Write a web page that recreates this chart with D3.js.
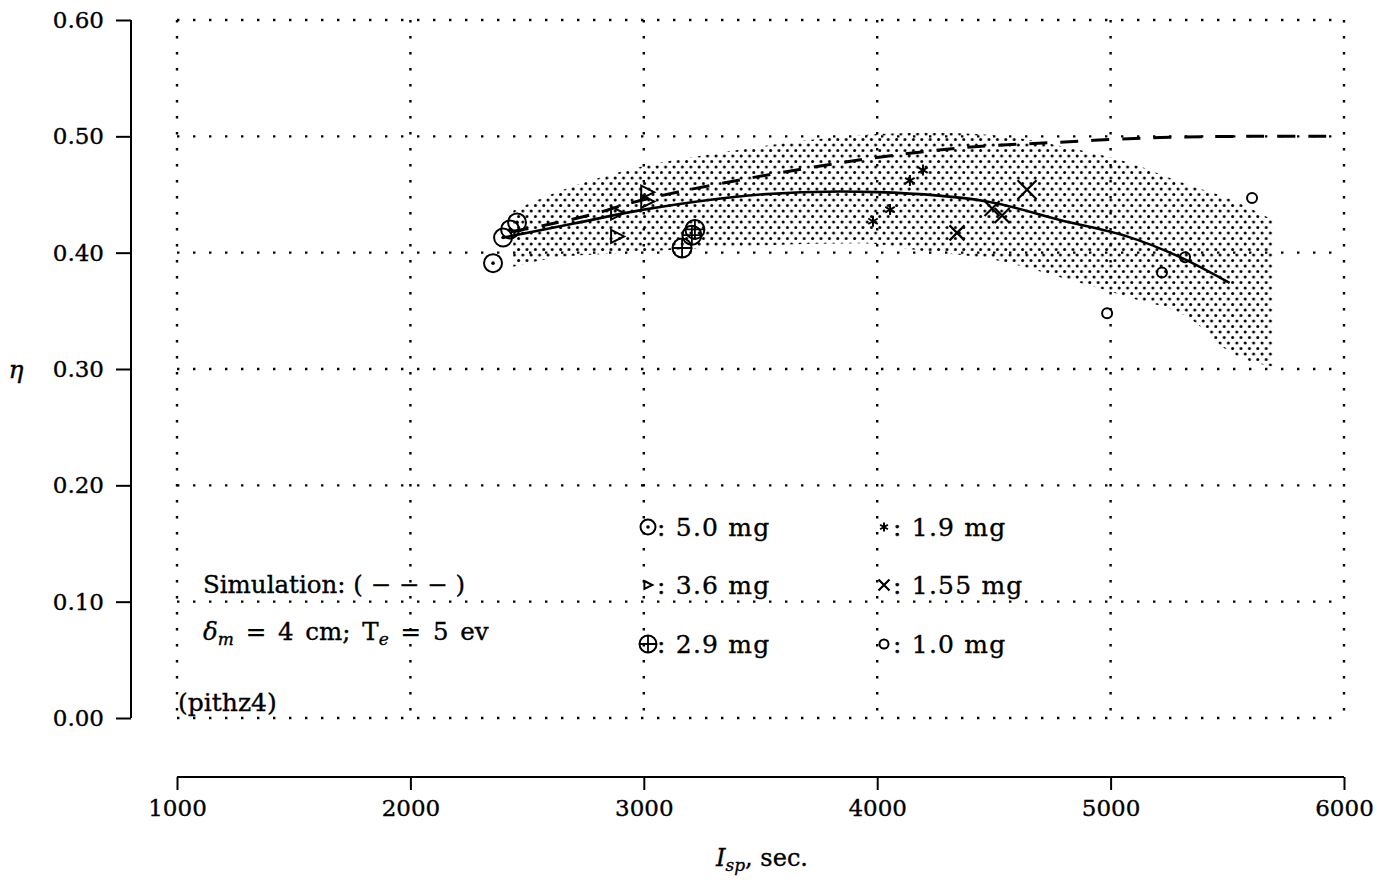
<!DOCTYPE html>
<html>
<head>
<meta charset="utf-8">
<script src="https://cdn.jsdelivr.net/npm/d3@7"></script>
<style>
  body { margin: 0; background: #fff; }
  svg text { font-family: "DejaVu Serif", "Liberation Serif", serif; fill: #000; stroke: #000; stroke-width: 0.35px; }
</style>
</head>
<body>
<svg id="chart" width="1393" height="880"></svg>
<script>
// tick values
var xTicks = [1000, 2000, 3000, 4000, 5000, 6000];
var yTicks = [0.0, 0.1, 0.2, 0.3, 0.4, 0.5, 0.6];

// stippled band (range of measurements)
var bandIsp = [2440, 2640, 2930, 3360, 3930, 4210, 4500, 4780, 5070, 5350, 5500, 5696];
var bandHi  = [0.436, 0.453, 0.471, 0.487, 0.501, 0.503, 0.501, 0.492, 0.478, 0.457, 0.447, 0.428];
var bandLo  = [0.388, 0.396, 0.400, 0.405, 0.408, 0.401, 0.394, 0.379, 0.362, 0.342, 0.316, 0.302];

// solid fit curve
var fitIsp = [2400, 2700, 3000, 3500, 4000, 4470, 4783, 5070, 5300, 5510];
var fitEta = [0.413, 0.425, 0.437, 0.450, 0.452, 0.444, 0.428, 0.414, 0.396, 0.374];

// dashed simulation curve
var simIsp = [2430, 2585, 2782, 2950, 3142, 3425, 3712, 3969, 4355, 4783, 5212, 5600, 5960];
var simEta = [0.418, 0.424, 0.433, 0.443, 0.452, 0.463, 0.473, 0.481, 0.490, 0.495, 0.499, 0.500, 0.500];

// measured points, by mass
var m50Isp = [2354, 2397, 2427, 2457];   var m50Eta = [0.391, 0.413, 0.420, 0.426];
var m36Isp = [2885, 2885, 3014, 3014];   var m36Eta = [0.414, 0.434, 0.444, 0.452];
var m29Isp = [3164, 3206, 3219];         var m29Eta = [0.404, 0.415, 0.420];
var m19Isp = [3982, 4055, 4140, 4196];   var m19Eta = [0.427, 0.437, 0.462, 0.471];
var m155Isp = [4342, 4492, 4535, 4642];  var m155Eta = [0.417, 0.438, 0.432, 0.454];
var m10Isp = [4985, 5220, 5319, 5606];   var m10Eta = [0.348, 0.383, 0.396, 0.447];

var legendLabels = ["5.0 mg", "3.6 mg", "2.9 mg", "1.9 mg", "1.55 mg", "1.0 mg"];

var svg = d3.select("#chart");
var x = d3.scaleLinear().domain([1000, 6000]).range([177, 1344]);
var y = d3.scaleLinear().domain([0, 0.6]).range([718, 20]);

// stipple pattern
var pat = svg.append("defs").append("pattern")
  .attr("id", "stip").attr("patternUnits", "userSpaceOnUse")
  .attr("width", 8.4).attr("height", 11);
pat.append("circle").attr("cx", 2).attr("cy", 2).attr("r", 1.5).attr("fill", "#000");
pat.append("circle").attr("cx", 6.2).attr("cy", 7.5).attr("r", 1.5).attr("fill", "#000");

// dotted grid
var grid = svg.append("g").attr("stroke", "#000").attr("stroke-width", 2.4)
  .attr("stroke-dasharray", "2.4 13.6").attr("fill", "none");
xTicks.forEach(function(t){
  grid.append("line").attr("x1", x(t)).attr("x2", x(t)).attr("y1", y(0.6)).attr("y2", y(0));
});
yTicks.forEach(function(t){
  grid.append("line").attr("x1", x(1000)).attr("x2", x(6000)).attr("y1", y(t)).attr("y2", y(t));
});

// band
var bandData = bandIsp.map(function(d, i){ return [d, bandLo[i], bandHi[i]]; });
svg.append("path").datum(bandData)
  .attr("fill", "url(#stip)")
  .attr("d", d3.area().x(function(d){ return x(d[0]); })
    .y0(function(d){ return y(d[1]); }).y1(function(d){ return y(d[2]); })
    .curve(d3.curveMonotoneX));

// curves
var line = d3.line().x(function(d){ return x(d[0]); }).y(function(d){ return y(d[1]); })
  .curve(d3.curveCatmullRom);
svg.append("path").datum(fitIsp.map(function(d, i){ return [d, fitEta[i]]; }))
  .attr("fill", "none").attr("stroke", "#000").attr("stroke-width", 2.6).attr("d", line);
svg.append("path").datum(simIsp.map(function(d, i){ return [d, simEta[i]]; }))
  .attr("fill", "none").attr("stroke", "#000").attr("stroke-width", 3)
  .attr("stroke-dasharray", "18 13").attr("d", line);

// marker drawing
function odot(g, cx, cy, r){
  g.append("circle").attr("cx", cx).attr("cy", cy).attr("r", r).attr("fill", "none").attr("stroke", "#000").attr("stroke-width", 2);
  g.append("circle").attr("cx", cx).attr("cy", cy).attr("r", 1.8).attr("fill", "#000");
}
function tri(g, cx, cy, s){
  g.append("path").attr("d", "M" + (cx - s*0.45) + "," + (cy - s*0.5) + "L" + (cx + s*0.55) + "," + cy + "L" + (cx - s*0.45) + "," + (cy + s*0.5) + "Z")
    .attr("fill", "none").attr("stroke", "#000").attr("stroke-width", 2);
}
function oplus(g, cx, cy, r){
  g.append("circle").attr("cx", cx).attr("cy", cy).attr("r", r).attr("fill", "none").attr("stroke", "#000").attr("stroke-width", 2);
  g.append("path").attr("d", "M" + (cx - r) + "," + cy + "H" + (cx + r) + "M" + cx + "," + (cy - r) + "V" + (cy + r))
    .attr("stroke", "#000").attr("stroke-width", 1.8);
}
function star(g, cx, cy, s){
  var p = "";
  [90, 30, -30].forEach(function(a){
    var r = a * Math.PI / 180, dx = Math.cos(r) * s / 2, dy = Math.sin(r) * s / 2;
    p += "M" + (cx - dx) + "," + (cy - dy) + "L" + (cx + dx) + "," + (cy + dy);
  });
  g.append("path").attr("d", p).attr("stroke", "#000").attr("stroke-width", 2);
}
function cross(g, cx, cy, s){
  var h = s / 2;
  g.append("path").attr("d", "M" + (cx - h) + "," + (cy - h) + "L" + (cx + h) + "," + (cy + h) + "M" + (cx - h) + "," + (cy + h) + "L" + (cx + h) + "," + (cy - h))
    .attr("stroke", "#000").attr("stroke-width", 2.2);
}
function ring(g, cx, cy, r){
  g.append("circle").attr("cx", cx).attr("cy", cy).attr("r", r).attr("fill", "none").attr("stroke", "#000").attr("stroke-width", 2);
}

var pts = svg.append("g");
m50Isp.forEach(function(d, i){ odot(pts, x(d), y(m50Eta[i]), 9); });
m36Isp.forEach(function(d, i){ tri(pts, x(d), y(m36Eta[i]), 13); });
m29Isp.forEach(function(d, i){ oplus(pts, x(d), y(m29Eta[i]), 9.5); });
m19Isp.forEach(function(d, i){ star(pts, x(d), y(m19Eta[i]), 11); });
m155Isp.forEach(function(d, i){ cross(pts, x(d), y(m155Eta[i]), i === 3 ? 19 : 15); });
m10Isp.forEach(function(d, i){ ring(pts, x(d), y(m10Eta[i]), 5); });

// y axis
var yAxis = svg.append("g").attr("transform", "translate(131,0)")
  .call(d3.axisLeft(y).tickValues(yTicks).tickFormat(d3.format(".2f")).tickSize(15).tickPadding(12));
yAxis.select(".domain").attr("stroke-width", 2).attr("d", "M0," + y(0.6) + "V" + y(0));
yAxis.selectAll(".tick line").attr("stroke-width", 2);
yAxis.selectAll(".tick text").attr("font-size", 23).attr("font-family", "DejaVu Serif");

// x axis
var xAxis = svg.append("g").attr("transform", "translate(0,777)")
  .call(d3.axisBottom(x).tickValues(xTicks).tickFormat(d3.format("d")).tickSize(13).tickPadding(10));
xAxis.select(".domain").attr("stroke-width", 2).attr("d", "M" + x(1000) + ",0H" + x(6000));
xAxis.selectAll(".tick line").attr("stroke-width", 2);
xAxis.selectAll(".tick text").attr("font-size", 23).attr("font-family", "DejaVu Serif");

// axis titles
svg.append("text").attr("x", 16).attr("y", 378).attr("text-anchor", "middle")
  .attr("font-size", 25).attr("font-style", "italic").text("η");
var xl = svg.append("text").attr("x", 762).attr("y", 866).attr("text-anchor", "middle").attr("font-size", 24);
xl.append("tspan").attr("font-style", "italic").text("I");
xl.append("tspan").attr("font-style", "italic").attr("font-size", 17).attr("dy", 5).text("sp");
xl.append("tspan").attr("dy", -5).text(", sec.");

// annotation text
svg.append("text").attr("x", 203).attr("y", 593).attr("font-size", 24.5).text("Simulation: ( − − − )");
var dl = svg.append("text").attr("x", 203).attr("y", 640).attr("font-size", 24.5).attr("word-spacing", 4);
dl.append("tspan").attr("font-style", "italic").text("δ");
dl.append("tspan").attr("font-style", "italic").attr("font-size", 17).attr("dy", 5).text("m");
dl.append("tspan").attr("dy", -5).text(" = 4 cm; T");
dl.append("tspan").attr("font-style", "italic").attr("font-size", 17).attr("dy", 5).text("e");
dl.append("tspan").attr("dy", -5).text(" = 5 ev");
svg.append("text").attr("x", 178).attr("y", 711).attr("font-size", 25).text("(pithz4)");

// legend
var lg = svg.append("g");
var colX = [648, 884], rowY = [527, 585, 644];
odot(lg, colX[0], rowY[0], 7.5);
tri(lg, colX[0], rowY[1], 8);
oplus(lg, colX[0], rowY[2], 8.5);
star(lg, colX[1], rowY[0], 9);
cross(lg, colX[1], rowY[1], 11);
ring(lg, colX[1], rowY[2], 4.5);
legendLabels.forEach(function(t, i){
  var c = Math.floor(i / 3), r = i % 3;
  lg.append("text").attr("x", colX[c] + 9).attr("y", rowY[r] + 9).attr("font-size", 25)
    .attr("letter-spacing", 1.2).text(": " + t);
});
</script>
</body>
</html>
